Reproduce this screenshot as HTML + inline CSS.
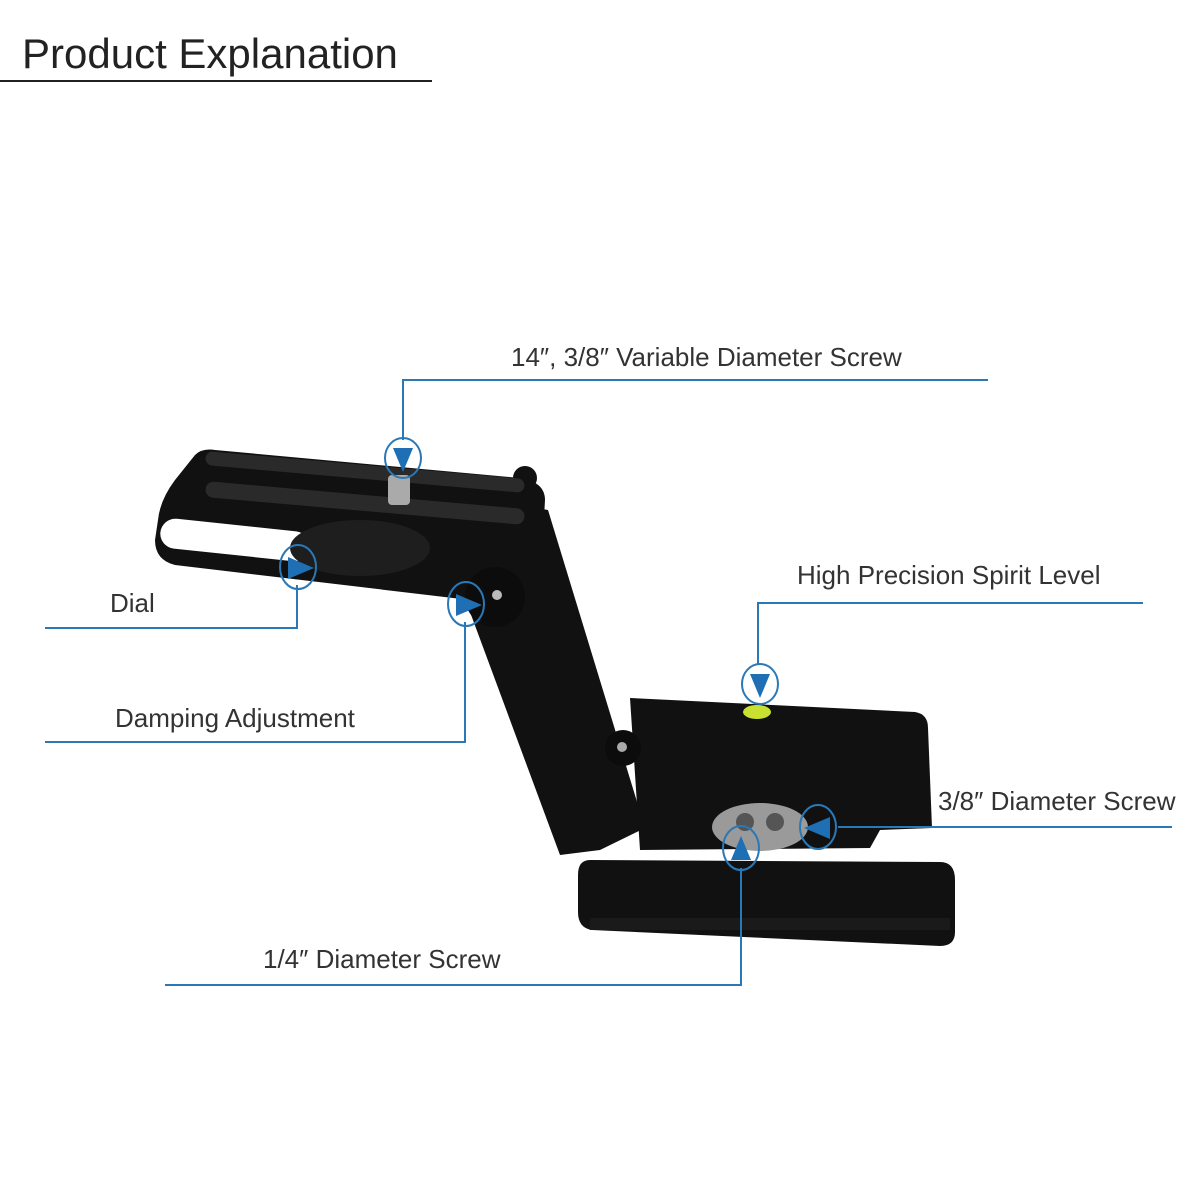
<!DOCTYPE html>
<html><head><meta charset="utf-8"><style>
body{margin:0;width:1200px;height:1200px;background:#fff;overflow:hidden}
svg{display:block}
text{font-family:"Liberation Sans",sans-serif;fill:#333}
</style></head><body>
<svg width="1200" height="1200" viewBox="0 0 1200 1200">
<text x="22" y="68" font-size="42" fill="#222" style="fill:#222">Product Explanation</text>
<line x1="0" y1="81" x2="432" y2="81" stroke="#222" stroke-width="2"/>

<g fill="#111">
<polygon points="460,585 520,505 548,510 645,828 600,850 560,855"/>
<path d="M215,450 L520,478 Q545,482 545,500 L540,590 L470,600 L175,565 Q155,560 155,540 L158,520 Q160,500 175,480 L195,455 Q202,448 215,450Z"/>
<circle cx="525" cy="478" r="12"/>
<path d="M630,698 L915,712 Q928,714 928,728 L932,828 L880,830 L870,848 L640,850Z"/>
<path d="M590,860 L940,862 Q955,862 955,880 L955,932 Q955,946 940,946 L592,930 Q578,928 578,912 L578,875 Q578,860 590,860Z"/>
</g>
<g fill="#2a2a2a">
<rect x="205" y="465" width="320" height="14" rx="7" transform="rotate(5 365 472)"/>
<rect x="205" y="495" width="320" height="16" rx="8" transform="rotate(5 365 503)"/>
<rect x="160" y="525" width="150" height="30" rx="15" fill="#fff" transform="rotate(6 235 540)"/>
<ellipse cx="360" cy="548" rx="70" ry="28" fill="#1e1e1e"/>
<circle cx="495" cy="597" r="30" fill="#0c0c0c"/>
<circle cx="623" cy="748" r="18" fill="#0c0c0c"/>
<rect x="590" y="918" width="360" height="12" fill="#1a1a1a"/>
</g>
<rect x="388" y="475" width="22" height="30" rx="4" fill="#aaa"/>
<circle cx="497" cy="595" r="5" fill="#bbb"/>
<circle cx="622" cy="747" r="5" fill="#aaa"/>
<ellipse cx="757" cy="712" rx="14" ry="7" fill="#c8e030"/>
<ellipse cx="760" cy="827" rx="48" ry="24" fill="#9a9a9a"/>
<circle cx="745" cy="822" r="9" fill="#555"/>
<circle cx="775" cy="822" r="9" fill="#555"/>

<g stroke="#2a78b6" stroke-width="2" fill="none">
<polyline points="988,380 403,380 403,440"/>
<polyline points="45,628 297,628 297,585"/>
<polyline points="45,742 465,742 465,622"/>
<polyline points="1143,603 758,603 758,665"/>
<polyline points="1172,827 838,827"/>
<polyline points="165,985 741,985 741,868"/>
<ellipse cx="403" cy="458" rx="18" ry="20"/>
<ellipse cx="298" cy="567" rx="18" ry="22"/>
<ellipse cx="466" cy="604" rx="18" ry="22"/>
<ellipse cx="760" cy="684" rx="18" ry="20"/>
<ellipse cx="818" cy="827" rx="18" ry="22"/>
<ellipse cx="741" cy="848" rx="18" ry="22"/>
</g>
<g fill="#1f6fb5">
<polygon points="393,448 413,448 403,472 "/>
<polygon points="288,557 288,579 314,568"/>
<polygon points="456,594 456,616 482,605"/>
<polygon points="750,674 770,674 760,698"/>
<polygon points="830,817 830,839 804,828"/>
<polygon points="731,860 751,860 741,836"/>
</g>
<g font-size="26">
<text x="511" y="366">14″, 3/8″ Variable Diameter Screw</text>
<text x="110" y="612">Dial</text>
<text x="115" y="727">Damping Adjustment</text>
<text x="797" y="584">High Precision Spirit Level</text>
<text x="938" y="810">3/8″ Diameter Screw</text>
<text x="263" y="968">1/4″ Diameter Screw</text>
</g>
</svg>
</body></html>
